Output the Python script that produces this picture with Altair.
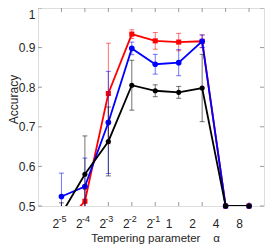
import altair as alt
import pandas as pd

# ---- data ----
exponents = [-5, -4, -3, -2, -1, 0, 1, 2, 3]          # log2(alpha)
tick_base = ["2", "2", "2", "2", "2", "1", "2", "4", "8"]
tick_sup = ["-5", "-4", "-3", "-2", "-1", "", "", "", ""]
y_ticks = [0.5, 0.6, 0.7, 0.8, 0.9, 1.0]

red_mean = [0.447, 0.512, 0.784, 0.934, 0.917, 0.914, 0.916, 0.5, 0.5]
red_err = [0.03, 0.03, 0.127, 0.011, 0.021, 0.022, 0.016, 0.0, 0.0]
blue_mean = [0.524, 0.549, 0.711, 0.898, 0.858, 0.862, 0.916, 0.5, 0.5]
blue_err = [0.059, 0.072, 0.129, 0.016, 0.025, 0.033, 0.016, 0.0, 0.0]
black_mean = [0.480, 0.580, 0.663, 0.805, 0.791, 0.787, 0.798, 0.5, 0.5]
black_err = [0.028, 0.097, 0.087, 0.063, 0.015, 0.015, 0.085, 0.0, 0.0]

W, H = 226, 198
UNIT = 23.45                      # pixels per doubling of alpha
X_MAX = -6 + W / UNIT
FONT = "Liberation Sans"
TXT = "#262626"
BOX = "#9a9a9a"

label_lookup = "[" + ",".join("'%s'" % t for t in tick_base) + "][datum.value + 5]"

xscale = alt.Scale(domain=[-6, X_MAX], nice=False, zero=False)
yscale = alt.Scale(domain=[0.5, 1.0], nice=False, zero=False)

xaxis = alt.Axis(
    values=exponents, labelExpr=label_lookup, grid=False, ticks=False, tickSize=0,
    domain=False, labelFont=FONT, labelFontSize=12, labelColor=TXT,
    labelBaseline="alphabetic", labelPadding=21, labelFlush=False, labelOverlap=False,
    labelOffset={"condition": {"test": "datum.value >= 0", "value": -10}, "value": -6},
    title="Tempering parameter\u00a0\u00a0\u00a0\u00a0α", titleFont=FONT, titleFontSize=11.5,
    titleFontWeight="normal", titleColor=TXT, titleBaseline="alphabetic", titleY=35,
    titleX=117,
)
yaxis = alt.Axis(
    values=y_ticks, labelExpr="datum.value == 1 ? '1' : format(datum.value, '.1f')",
    grid=False, ticks=False, tickSize=0, domain=False, labelFont=FONT, labelFontSize=12,
    labelColor=TXT, labelPadding=3, labelFlush=False, labelOverlap=False,
    labelOffset={"condition": {"test": "datum.value == 1", "value": 6}, "value": 0},
    title="Accuracy", titleFont=FONT, titleFontSize=12, titleFontWeight="normal",
    titleColor=TXT, titleBaseline="alphabetic", titleX=-21, titleY=91,
)


def X(field="e"):
    return alt.X(f"{field}:Q", scale=xscale, axis=xaxis)


def Y(field="acc"):
    return alt.Y(f"{field}:Q", scale=yscale, axis=yaxis)


def series(mean, err, color, shape, size, err_op):
    df = pd.DataFrame({
        "e": exponents,
        "acc": mean,
        "lo": [m - s for m, s in zip(mean, err)],
        "hi": [m + s for m, s in zip(mean, err)],
    })
    base = alt.Chart(df)
    bars = base.mark_rule(color=color, opacity=err_op, strokeWidth=1, clip=True).encode(
        x=X(), y=Y("lo"), y2="hi:Q")
    caps = base.transform_fold(["lo", "hi"], as_=["k", "cap"]).mark_tick(
        color=color, opacity=err_op, orient="horizontal", size=5, thickness=1, clip=True
    ).encode(x=X(), y=Y("cap"))
    line = base.mark_line(color=color, strokeWidth=1.8, clip=True).encode(x=X(), y=Y())
    pts = base.transform_filter("datum.acc >= 0.5").mark_point(
        filled=True, shape=shape, size=size, color=color, opacity=1
    ).encode(x=X(), y=Y())
    return [bars, caps, line, pts]


# inward tick marks on all four sides, placed by the scales
xt = pd.DataFrame({"e": exponents})
yt = pd.DataFrame({"acc": y_ticks})
tick_style = dict(color=BOX, strokeWidth=1)
top_t = alt.Chart(xt).mark_rule(**tick_style).encode(x=X(), y=alt.value(0), y2=alt.value(4))
bot_t = alt.Chart(xt).mark_rule(**tick_style).encode(x=X(), y=alt.value(H - 4), y2=alt.value(H))
left_t = alt.Chart(yt).mark_rule(**tick_style).encode(y=Y(), x=alt.value(0), x2=alt.value(4))
right_t = alt.Chart(yt).mark_rule(**tick_style).encode(y=Y(), x=alt.value(W - 4), x2=alt.value(W))

# superscript exponents of the tick labels
sup_df = pd.DataFrame({"e": exponents, "sup": tick_sup})
sup_t = alt.Chart(sup_df).transform_filter("datum.sup != ''").mark_text(
    align="left", baseline="alphabetic", dx=-3, font=FONT, fontSize=9, color=TXT
).encode(x=X(), y=alt.value(H + 16), text="sup:N")

layers = [top_t, bot_t, left_t, right_t, sup_t]
layers += series(red_mean, red_err, "#ff0000", "square", 26, 0.55)
layers += series(blue_mean, blue_err, "#0000ff", "circle", 32, 0.55)
layers += series(black_mean, black_err, "#000000", "circle", 26, 0.55)

chart = alt.layer(*layers).properties(
    width=W, height=H,
    autosize=alt.AutoSizeParams(type="none"),
    padding={"left": 30, "top": 0, "right": 1, "bottom": 38},
).configure_view(stroke=BOX, strokeWidth=1).configure(background="white")

chart.save("out.html", embed_options={"renderer": "svg", "actions": False})
